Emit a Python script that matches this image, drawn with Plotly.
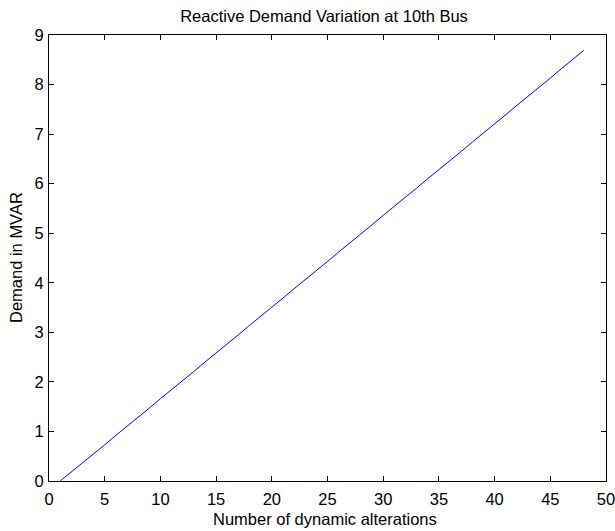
import plotly.graph_objects as go

alterations = list(range(1, 49))
demand_mvar = [0.00, 0.18, 0.36, 0.55, 0.73, 0.92, 1.10, 1.29, 1.47, 1.66,
               1.84, 2.03, 2.21, 2.40, 2.58, 2.77, 2.95, 3.14, 3.32, 3.51,
               3.69, 3.88, 4.06, 4.25, 4.43, 4.62, 4.80, 4.99, 5.17, 5.36,
               5.54, 5.73, 5.91, 6.10, 6.28, 6.47, 6.65, 6.84, 7.02, 7.21,
               7.39, 7.58, 7.76, 7.95, 8.13, 8.32, 8.50, 8.69]
x_ticks = [0, 5, 10, 15, 20, 25, 30, 35, 40, 45, 50]
y_ticks = [0, 1, 2, 3, 4, 5, 6, 7, 8, 9]

W, H = 615, 531
L, R, T, B = 49, 615 - 606, 35, 531 - 481

fig = go.Figure()
fig.add_trace(go.Scatter(x=alterations, y=demand_mvar, mode="lines",
                         line=dict(color="#0000ff", width=1), showlegend=False,
                         hoverinfo="skip"))

fam = "Liberation Sans, Arial, sans-serif"
font = dict(family=fam, size=16.5, color="black")
axis_common = dict(showgrid=False, zeroline=False, showline=True, linecolor="black",
                   linewidth=1, mirror="ticks", ticks="inside", ticklen=5,
                   tickcolor="black", tickfont=font, automargin=False,
                   ticklabeloverflow="allow")

pw, ph = W - L - R, H - T - B

fig.update_layout(
    width=W, height=H,
    margin=dict(l=L, r=R, t=T, b=B),
    paper_bgcolor="white", plot_bgcolor="white",
    font=font,
    hovermode=False,
    title=dict(text="Reactive Demand Variation at 10th Bus", x=324 / W, xanchor="center",
               y=1 - 16 / H, yanchor="middle", yref="container",
               font=font),
    xaxis=dict(range=[0, 50], tickvals=x_ticks, ticktext=[str(v) for v in x_ticks],
               ticklabelstandoff=3, **axis_common),
    yaxis=dict(range=[0, 9], tickvals=y_ticks, ticktext=[str(v) for v in y_ticks],
               ticklabelstandoff=1, **axis_common),
    annotations=[
        dict(text="Number of dynamic alterations", xref="paper", yref="paper",
             x=(325 - L) / pw, y=-(519 - 481) / ph,
             xanchor="center", yanchor="middle", showarrow=False, font=font),
        dict(text="Demand in MVAR", xref="paper", yref="paper", textangle=-90,
             x=-(L - 16) / pw, y=0.5,
             xanchor="center", yanchor="middle", showarrow=False, font=font),
    ],
)

fig.write_html("out.html", config={"displayModeBar": False},
               post_script="document.body.style.margin='0';document.body.style.overflow='hidden';")
